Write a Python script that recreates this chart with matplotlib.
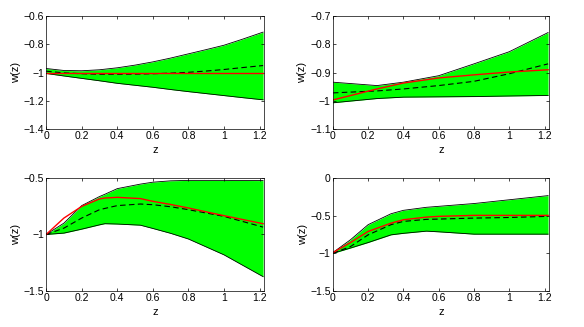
import numpy as np
import matplotlib.pyplot as plt

plt.rcParams['font.family'] = ['Liberation Sans', 'DejaVu Sans']

# --- panel data ---
z1 = [0, 0.1, 0.2, 0.3, 0.4, 0.5, 0.6, 0.7, 0.8, 0.9, 1.0, 1.1, 1.22]
upper1 = [-0.971, -0.985, -0.987, -0.980, -0.966, -0.947, -0.924, -0.897, -0.867, -0.837, -0.806, -0.765, -0.713]
lower1 = [-1.006, -1.024, -1.041, -1.058, -1.076, -1.090, -1.104, -1.120, -1.135, -1.149, -1.163, -1.177, -1.193]
dash1 = [-0.990, -1.002, -1.008, -1.012, -1.012, -1.011, -1.008, -1.004, -0.998, -0.989, -0.978, -0.965, -0.950]
red1 = [-1.0] * len(z1)

z2 = [0, 0.25, 0.4, 0.6, 0.8, 1.0, 1.22]
upper2 = [-0.934, -0.946, -0.934, -0.911, -0.869, -0.826, -0.758]
lower2 = [-1.007, -0.992, -0.987, -0.986, -0.985, -0.983, -0.981]
dash2 = [-0.972, -0.965, -0.958, -0.946, -0.931, -0.904, -0.869]
red2 = [-0.997, -0.958, -0.937, -0.919, -0.908, -0.898, -0.890]

z3 = [0, 0.1, 0.2, 0.3, 0.33, 0.4, 0.53, 0.6, 0.7, 0.8, 1.0, 1.22]
upper3 = [-1.0, -0.90, -0.745, -0.665, -0.645, -0.595, -0.555, -0.538, -0.526, -0.522, -0.522, -0.524]
lower3 = [-1.0, -0.988, -0.953, -0.915, -0.905, -0.908, -0.918, -0.947, -0.99, -1.04, -1.18, -1.373]
dash3 = [-1.0, -0.944, -0.855, -0.781, -0.770, -0.745, -0.731, -0.737, -0.755, -0.781, -0.840, -0.935]
red3 = [-1.0, -0.855, -0.752, -0.686, -0.678, -0.672, -0.683, -0.707, -0.735, -0.766, -0.834, -0.905]

z4 = [0, 0.1, 0.2, 0.33, 0.4, 0.53, 0.6, 0.8, 1.0, 1.22]
upper4 = [-0.99, -0.82, -0.62, -0.475, -0.43, -0.39, -0.377, -0.34, -0.29, -0.235]
lower4 = [-1.0, -0.93, -0.857, -0.755, -0.735, -0.706, -0.715, -0.746, -0.746, -0.746]
dash4 = [-1.0, -0.91, -0.755, -0.62, -0.577, -0.55, -0.546, -0.533, -0.525, -0.51]
red4 = [-0.99, -0.857, -0.71, -0.60, -0.555, -0.52, -0.51, -0.497, -0.497, -0.497]

panels = [
    (z1, upper1, lower1, dash1, red1, (-1.4, -0.6), [-1.4, -1.2, -1, -0.8, -0.6]),
    (z2, upper2, lower2, dash2, red2, (-1.1, -0.7), [-1.1, -1, -0.9, -0.8, -0.7]),
    (z3, upper3, lower3, dash3, red3, (-1.5, -0.5), [-1.5, -1, -0.5]),
    (z4, upper4, lower4, dash4, red4, (-1.5, 0), [-1.5, -1, -0.5, 0]),
]
xticks = [0, 0.2, 0.4, 0.6, 0.8, 1, 1.2]

# axes rectangles in figure fractions
rects = [
    [0.079, 0.6055, 0.373, 0.345],
    [0.570, 0.6055, 0.370, 0.345],
    [0.079, 0.110, 0.373, 0.346],
    [0.570, 0.110, 0.370, 0.346],
]

def fmt(v):
    s = f"{v:g}"
    return s.replace('-', '\u2212')

fig = plt.figure(figsize=(5.84, 3.27), dpi=100)
for (z, up, lo, da, rd, ylim, yt), r in zip(panels, rects):
    ax = fig.add_axes(r)
    ax.fill_between(z, lo, up, color='#00ff00', lw=0)
    ax.plot(z, up, color='black', lw=0.6)
    ax.plot(z, lo, color='black', lw=0.6)
    ax.plot(z, da, color='black', lw=0.8, ls=(0, (5, 3)))
    ax.plot(z, rd, color='#ff0000', lw=1.0)
    ax.set_xlim(0, 1.225)
    ax.set_ylim(*ylim)
    ax.set_xticks(xticks)
    ax.set_xticklabels([fmt(v) for v in xticks])
    ax.set_yticks(yt)
    ax.set_yticklabels([fmt(v) for v in yt])
    ax.tick_params(direction='in', top=True, right=True, length=2.5, width=0.5,
                   labelsize=7.5, pad=1.5)
    for s in ax.spines.values():
        s.set_linewidth(0.5)
    ax.set_xlabel('z', fontsize=8, labelpad=3)
    ax.set_ylabel('w(z)', fontsize=8, labelpad=2)

fig.savefig('out.png', dpi=100)
